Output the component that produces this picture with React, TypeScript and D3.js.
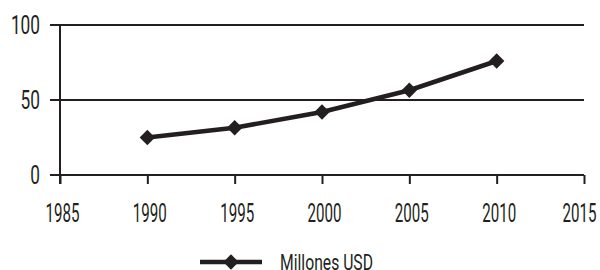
import React, { useEffect, useRef } from 'react';
import * as d3 from 'd3';

const years = [1990, 1995, 2000, 2005, 2010];
const millonesUSD = [25, 31.5, 42, 56.5, 76];
const xTicks = [1985, 1990, 1995, 2000, 2005, 2010, 2015];
const yTicks = [0, 50, 100];
const seriesName = 'Millones USD';

const ink = '#231f20';
const font = 'Roboto, sans-serif';

const App = () => {
  const ref = useRef<SVGSVGElement>(null);

  useEffect(() => {
    const svg = d3.select(ref.current);
    svg.selectAll('*').remove();

    const x = d3.scaleLinear().domain([1985, 2015]).range([60, 584]);
    const y = d3.scaleLinear().domain([0, 100]).range([175, 25]);

    // horizontal grid lines (run a little past the axis on the left)
    svg.append('g')
      .selectAll('line')
      .data(yTicks)
      .enter()
      .append('line')
      .attr('x1', 50)
      .attr('x2', x(2015))
      .attr('y1', (d) => y(d))
      .attr('y2', (d) => y(d))
      .attr('stroke', ink)
      .attr('stroke-width', 2);

    // y axis line
    svg.append('line')
      .attr('x1', x(1985))
      .attr('x2', x(1985))
      .attr('y1', y(100))
      .attr('y2', 184)
      .attr('stroke', ink)
      .attr('stroke-width', 2);

    // x axis
    const xAxis = svg.append('g')
      .attr('transform', `translate(0,${y(0)})`)
      .call(d3.axisBottom(x).tickValues(xTicks).tickFormat(d3.format('d')).tickSize(9).tickPadding(20));
    xAxis.select('.domain').remove();
    xAxis.selectAll('line').attr('stroke', ink).attr('stroke-width', 2);
    xAxis.selectAll('text')
      .attr('fill', ink)
      .attr('dx', (d) => (d === 2015 ? -5 : 2))
      .attr('textLength', 34)
      .attr('lengthAdjust', 'spacingAndGlyphs')
      .style('font-family', font)
      .style('font-size', '25px');

    // y labels
    svg.append('g')
      .selectAll('text')
      .data(yTicks)
      .enter()
      .append('text')
      .attr('x', 40)
      .attr('y', (d) => y(d) + 9)
      .attr('text-anchor', 'end')
      .attr('textLength', (d) => String(d).length * 9.7)
      .attr('lengthAdjust', 'spacingAndGlyphs')
      .attr('fill', ink)
      .style('font-family', font)
      .style('font-size', '26px')
      .text((d) => d);

    const pts = years.map((yr, i) => [x(yr), y(millonesUSD[i])] as [number, number]);

    svg.append('path')
      .attr('d', d3.line()(pts))
      .attr('fill', 'none')
      .attr('stroke', ink)
      .attr('stroke-width', 4.5);

    const diamond = d3.symbol().type(d3.symbolDiamond2).size(150);

    svg.append('g')
      .selectAll('path')
      .data(pts)
      .enter()
      .append('path')
      .attr('d', diamond)
      .attr('transform', (d) => `translate(${d[0]},${d[1]})`)
      .attr('fill', ink);

    // legend
    const lg = svg.append('g').attr('transform', 'translate(231,262)');
    lg.append('line')
      .attr('x1', -31)
      .attr('x2', 31)
      .attr('stroke', ink)
      .attr('stroke-width', 4.5);
    lg.append('path')
      .attr('d', diamond)
      .attr('fill', ink);
    lg.append('text')
      .attr('x', 49)
      .attr('y', 7.5)
      .attr('textLength', 93)
      .attr('lengthAdjust', 'spacingAndGlyphs')
      .attr('fill', ink)
      .style('font-family', font)
      .style('font-size', '22px')
      .text(seriesName);
  }, []);

  return (
    <svg ref={ref} width={600} height={270} style={{ position: 'absolute', left: 0, top: 0, background: '#fff' }} />
  );
};

export default App;
